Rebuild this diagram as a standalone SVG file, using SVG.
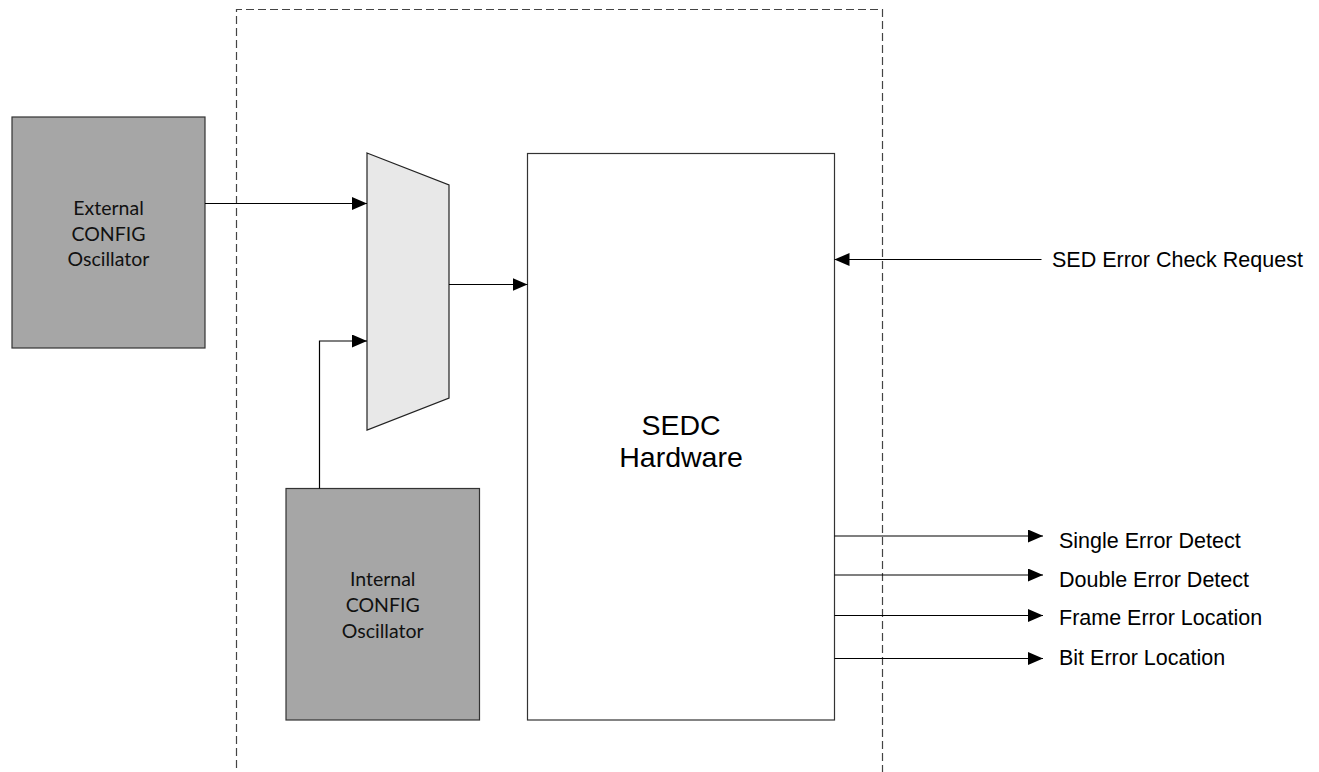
<svg xmlns="http://www.w3.org/2000/svg" width="1319" height="772" viewBox="0 0 1319 772">
<style>
.osc{fill:#a6a6a6;stroke:#333;stroke-width:1.2}
.osct{font-family:Lato,"Open Sans",sans-serif;font-size:19.5px;fill:#111;text-anchor:middle}
.lbl{font-family:"Liberation Sans",Arial,sans-serif;font-size:21.5px;fill:#000}
.wire{stroke:#000;stroke-width:1.2;fill:none}
</style>
<defs>
<marker id="ah" markerWidth="15" markerHeight="13" refX="15" refY="6.5" orient="auto" markerUnits="userSpaceOnUse">
<path d="M0,0 L15,6.5 L0,13 Z" fill="#000"/>
</marker>
</defs>
<g id="boundary">
<path d="M236.5,780 V9.5 H882.5 V780" fill="none" stroke="#444" stroke-width="1.2" stroke-dasharray="8,4"/>
</g>
<g id="ext-osc">
<rect class="osc" x="12" y="117" width="193" height="231"/>
<text class="osct" x="108.5" y="214.5">External</text>
<text class="osct" x="108.5" y="240.5">CONFIG</text>
<text class="osct" x="108.5" y="266">Oscillator</text>
</g>
<g id="int-osc">
<rect class="osc" x="286" y="488.5" width="193.5" height="231.5"/>
<text class="osct" x="382.7" y="586">Internal</text>
<text class="osct" x="382.7" y="612">CONFIG</text>
<text class="osct" x="382.7" y="637.5">Oscillator</text>
</g>
<g id="mux">
<polygon points="367,153 449,185 449,398 367,430" fill="#e8e8e8" stroke="#222" stroke-width="1.2"/>
</g>
<g id="sedc">
<rect x="527.5" y="153.5" width="307" height="566.5" fill="#fff" stroke="#333" stroke-width="1.2"/>
<text x="681" y="434.5" font-family="Liberation Sans, Arial, sans-serif" font-size="28.5" text-anchor="middle">SEDC</text>
<text x="681" y="466.5" font-family="Liberation Sans, Arial, sans-serif" font-size="28.5" text-anchor="middle">Hardware</text>
</g>
<g id="connectors">
<line class="wire" x1="205" y1="203.5" x2="367" y2="203.5" marker-end="url(#ah)"/>
<polyline class="wire" points="319.5,488.5 319.5,341 367,341" marker-end="url(#ah)"/>
<line class="wire" x1="449" y1="284.5" x2="527.5" y2="284.5" marker-end="url(#ah)"/>
<line class="wire" x1="1041.5" y1="259.5" x2="834.5" y2="259.5" marker-end="url(#ah)"/>
<line class="wire" x1="834.5" y1="536" x2="1043" y2="536" marker-end="url(#ah)"/>
<line class="wire" x1="834.5" y1="575" x2="1043" y2="575" marker-end="url(#ah)"/>
<line class="wire" x1="834.5" y1="615.5" x2="1043" y2="615.5" marker-end="url(#ah)"/>
<line class="wire" x1="834.5" y1="658.5" x2="1043" y2="658.5" marker-end="url(#ah)"/>
</g>
<g id="labels">
<text class="lbl" x="1052" y="267">SED Error Check Request</text>
<text class="lbl" x="1059" y="548">Single Error Detect</text>
<text class="lbl" x="1059" y="586.5">Double Error Detect</text>
<text class="lbl" x="1059" y="625">Frame Error Location</text>
<text class="lbl" x="1059" y="665">Bit Error Location</text>
</g>
</svg>
